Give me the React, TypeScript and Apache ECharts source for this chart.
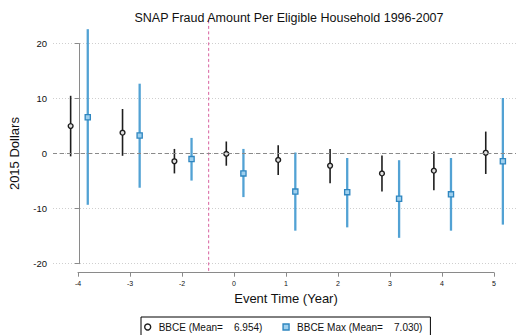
import React, { useEffect, useRef } from "react";
import * as echarts from "echarts";

const tickLabels = ["-4", "-3", "-2", "0", "1", "2", "3", "4", "5"];
const bbceMean = [5.0, 3.8, -1.4, -0.05, -1.15, -2.2, -3.6, -3.1, 0.15];
const bbceLow = [-0.5, -0.4, -3.6, -2.2, -3.9, -5.4, -6.9, -6.65, -3.7];
const bbceHigh = [10.5, 8.1, 0.85, 2.2, 1.5, 0.85, -0.35, 0.36, 4.0];
const maxMean = [6.6, 3.3, -1.0, -3.6, -6.9, -7.0, -8.2, -7.4, -1.4];
const maxLow = [-9.3, -6.2, -4.9, -7.9, -14.0, -13.4, -15.3, -14.0, -12.9];
const maxHigh = [22.6, 12.7, 2.85, 0.85, 0.2, -0.8, -1.2, -0.8, 10.1];
const legendNames = ["BBCE (Mean=    6.954)", "BBCE Max (Mean=    7.030)"];
const refLineX = 2.5; // between event time -2 and 0
const refLineTop = 24.2;
const refLineBottom = -21.4;

const FONT = "'Liberation Sans', Arial, Helvetica, sans-serif";
const BLACK = "#1e1e1e";
const BLUE = "#52a2d4";

export default function App() {
  const ref = useRef<HTMLDivElement>(null);
  useEffect(() => {
    if (!ref.current) return;
    const chart = echarts.init(ref.current, null, { renderer: "svg" });
    const blackData = tickLabels.map((_, i) => [i - 0.16, bbceMean[i], bbceLow[i], bbceHigh[i]]);
    const blueData = tickLabels.map((_, i) => [i + 0.17, maxMean[i], maxLow[i], maxHigh[i]]);

    const makeRender = (kind: "circle" | "square") => (params: any, api: any) => {
      const x = api.value(0);
      const m = api.value(1);
      const lo = api.value(2);
      const hi = api.value(3);
      const pLo = api.coord([x, lo]);
      const pHi = api.coord([x, hi]);
      const pM = api.coord([x, m]);
      const children: any[] = [
        {
          type: "line",
          shape: { x1: pLo[0], y1: pLo[1], x2: pHi[0], y2: pHi[1] },
          style: { stroke: kind === "circle" ? BLACK : BLUE, lineWidth: kind === "circle" ? 1.6 : 2.3 },
        },
      ];
      if (kind === "circle") {
        children.push({
          type: "circle",
          shape: { cx: pM[0], cy: pM[1], r: 2.4 },
          style: { fill: "#e0e0e0", stroke: BLACK, lineWidth: 1.4 },
        });
      } else {
        children.push({
          type: "rect",
          shape: { x: pM[0] - 2.6, y: pM[1] - 2.6, width: 5.2, height: 5.2 },
          style: { fill: "#9fd0ee", stroke: "#2f86c0", lineWidth: 1.3 },
        });
      }
      return { type: "group", children };
    };

    chart.setOption({
      animation: false,
      title: {
        text: "SNAP Fraud Amount Per Eligible Household 1996-2007",
        left: 284,
        textAlign: "center",
        top: 6,
        textStyle: { fontFamily: FONT, fontSize: 12.5, fontWeight: "normal", color: "#111" },
      },
      legend: {
        left: 141,
        top: 317,
        orient: "horizontal",
        borderColor: "#000",
        borderWidth: 1,
        padding: [5, 8, 12, 3],
        itemGap: 20,
        itemWidth: 6,
        itemHeight: 6,
        textStyle: { fontFamily: FONT, fontSize: 10, color: "#111", padding: [0, 0, 0, 3] },
        data: [
          { name: legendNames[0], icon: "circle", itemStyle: { color: "#fff", borderColor: BLACK, borderWidth: 1.4 } },
          { name: legendNames[1], icon: "rect", itemStyle: { color: "#9fd0ee", borderColor: "#2f86c0", borderWidth: 1.4 } },
        ],
      },
      grid: [
        { left: 52, right: 0, top: 43.5, height: 220.2 },
        { left: 78, right: 22, top: 271.7, height: 1 },
      ],
      xAxis: [
        { type: "value", gridIndex: 0, min: -0.5, max: 8.423, show: false },
        {
          type: "value",
          gridIndex: 1,
          min: 0,
          max: 8,
          interval: 1,
          position: "top",
          axisLine: { show: true, lineStyle: { color: "#8a8a8a", width: 1 } },
          axisTick: { show: true, inside: true, length: 4, lineStyle: { color: "#8a8a8a" } },
          splitLine: { show: false },
          axisLabel: {
            show: true,
            inside: true,
            margin: 8,
            fontFamily: FONT,
            fontSize: 7,
            color: "#111",
            formatter: (v: number) => tickLabels[Math.round(v)] ?? "",
          },
          name: "Event Time (Year)",
          nameLocation: "middle",
          nameGap: -20,
          nameTextStyle: { fontFamily: FONT, fontSize: 13, color: "#111", verticalAlign: "top" },
        },
      ],
      yAxis: [
        {
          type: "value",
          gridIndex: 0,
          min: -20,
          max: 20,
          interval: 10,
          axisLine: { show: true, lineStyle: { color: "#8a8a8a", width: 1 } },
          axisTick: { show: true, length: 4, lineStyle: { color: "#8a8a8a" } },
          splitLine: { show: true, lineStyle: { color: "#cfcfcf", type: [1, 2], width: 1 } },
          axisLabel: { fontFamily: FONT, fontSize: 9.5, color: "#111", margin: 6 },
          name: "2015 Dollars",
          nameLocation: "middle",
          nameGap: 32,
          nameTextStyle: { fontFamily: FONT, fontSize: 13, color: "#111" },
        },
        { type: "value", gridIndex: 1, show: false },
      ],
      series: [
        {
          type: "custom",
          name: "ref",
          xAxisIndex: 0,
          yAxisIndex: 0,
          clip: false,
          silent: true,
          data: [[refLineX, refLineTop, refLineBottom]],
          renderItem: (params: any, api: any) => {
            const a = api.coord([api.value(0), api.value(1)]);
            const b = api.coord([api.value(0), api.value(2)]);
            return {
              type: "line",
              shape: { x1: a[0], y1: a[1], x2: b[0], y2: b[1] },
              style: { stroke: "#d8619f", lineWidth: 1, lineDash: [3, 2.5] },
            };
          },
          markLine: {
            silent: true,
            symbol: "none",
            label: { show: false },
            lineStyle: { color: "#8a8a8a", type: [4, 3], width: 1 },
            data: [{ yAxis: 0 }],
          },
        },
        {
          type: "custom",
          name: legendNames[0],
          xAxisIndex: 0,
          yAxisIndex: 0,
          clip: false,
          itemStyle: { color: BLACK },
          encode: { x: 0, y: [1, 2, 3] },
          data: blackData,
          renderItem: makeRender("circle"),
        },
        {
          type: "custom",
          name: legendNames[1],
          xAxisIndex: 0,
          yAxisIndex: 0,
          clip: false,
          itemStyle: { color: BLUE },
          encode: { x: 0, y: [1, 2, 3] },
          data: blueData,
          renderItem: makeRender("square"),
        },
      ],
    });
    return () => chart.dispose();
  }, []);
  return (
    <div
      ref={ref}
      style={{ position: "fixed", left: 0, top: 0, width: 516, height: 335, background: "#fff" }}
    />
  );
}
